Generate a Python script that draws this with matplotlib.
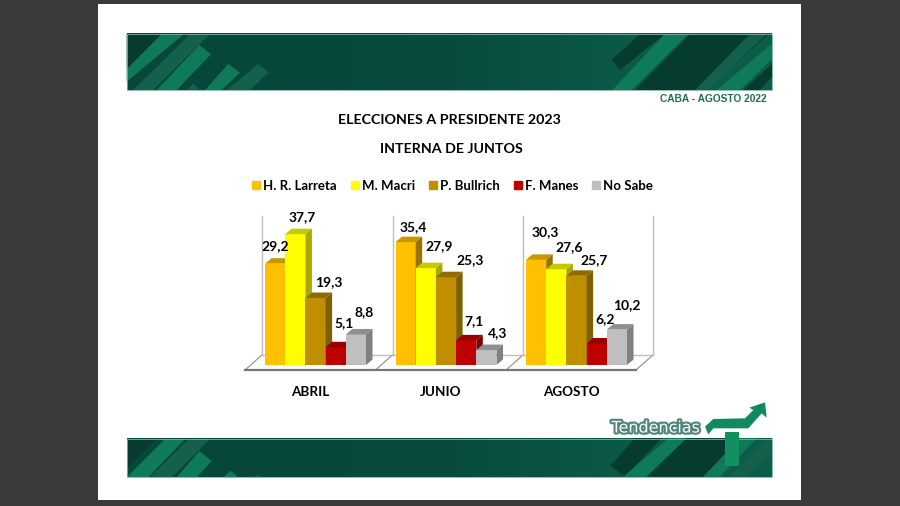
import matplotlib
matplotlib.use("Agg")
import matplotlib.pyplot as plt
import matplotlib.patheffects as pe
from matplotlib.lines import Line2D
from matplotlib.patches import Polygon, Rectangle
import numpy as np

plt.rcParams['font.family'] = ['Lato', 'DejaVu Sans']

# Datos
meses = ["ABRIL", "JUNIO", "AGOSTO"]
candidatos = ["H. R. Larreta", "M. Macri", "P. Bullrich", "F. Manes", "No Sabe"]
larreta = [29.2, 35.4, 30.3]
macri = [37.7, 27.9, 27.6]
bullrich = [19.3, 25.3, 25.7]
manes = [5.1, 7.1, 6.2]
no_sabe = [8.8, 4.3, 10.2]
series = [larreta, macri, bullrich, manes, no_sabe]

# colores: frente, tapa, lateral
frente = ["#ffc000", "#ffff00", "#bf8f00", "#c00000", "#bfbfbf"]
tapa = ["#c99700", "#c8c800", "#8f6b00", "#960000", "#8f8f8f"]
lateral = ["#997300", "#a8a800", "#7f6000", "#800000", "#808080"]

# desplazamiento de cada etiqueta respecto de la barra, en pixeles
offs = [
    [(0, 18), (7, 17), (13, 16), (8, 24), (8, 22)],
    [(8, 15), (13, 22), (24, 17), (8, 19), (11, 17)],
    [(9, 28), (13, 22), (18, 16), (8, 24), (10, 25)],
]

W, H = 900, 506
fig = plt.figure(figsize=(W / 100, 5.0601), dpi=100, facecolor="#3a3a3a")

# pagina, banners y logo en coordenadas de pixel
page = fig.add_axes([0, 0, 1, 1])
page.set_xlim(0, W)
page.set_ylim(H, 0)
page.axis("off")
page.add_patch(Rectangle((98, 4), 703, 496, fc="white", ec="none"))

OSCURO = "#063c30"
MEDIO = "#14604c"
CLARO = "#0f7a5a"


def banner(x0, y0, x1, y1):
    grad = np.array([[0.0, 0.25, 1.0]])
    cmap = matplotlib.colors.LinearSegmentedColormap.from_list("b", ["#07463a", "#0c5c4a"])
    page.imshow(grad, extent=(x0, x1, y1, y0), cmap=cmap, aspect="auto", interpolation="bilinear", zorder=1)
    page.add_patch(Rectangle((x0, y0), x1 - x0, y1 - y0, fc="none", ec="#7fb5a8", lw=0.6, zorder=3))


def formas(ox, oy, lista):
    # los puntos vienen en la escala 3x de los recortes
    for color, pts in lista:
        xy = [(ox + a / 3, oy + b / 3) for a, b in pts]
        page.add_patch(Polygon(xy, closed=True, fc=color, ec="none", zorder=2))


banner(127, 34, 772, 90)
banner(127, 439, 772, 477)

formas(110, 20, [
    (OSCURO, [(50, 42), (155, 42), (50, 148)]),
    (CLARO, [(50, 148), (155, 42), (222, 42), (50, 185)]),
    (MEDIO, [(240, 42), (300, 42), (130, 210), (70, 210)]),
    (CLARO, [(268, 75), (303, 103), (200, 210), (140, 210)]),
    (MEDIO, [(230, 210), (250, 190), (270, 210)]),
    (CLARO, [(355, 132), (390, 158), (335, 210), (285, 210)]),
    (MEDIO, [(445, 132), (475, 158), (420, 210), (350, 210)]),
])
formas(450, 20, [
    (OSCURO, [(485, 120), (570, 42), (645, 42), (510, 150)]),
    (OSCURO, [(555, 210), (720, 42), (955, 42), (770, 210)]),
    (CLARO, [(487, 210), (645, 42), (715, 42), (545, 210)]),
    (MEDIO, [(735, 210), (900, 42), (950, 42), (775, 210)]),
    (CLARO, [(800, 210), (967, 70), (967, 115), (870, 210)]),
    (OSCURO, [(880, 210), (967, 130), (967, 170), (930, 210)]),
])
formas(110, 425, [
    (OSCURO, [(52, 42), (140, 42), (52, 130)]),
    (CLARO, [(52, 155), (165, 42), (225, 42), (115, 157)]),
    (MEDIO, [(235, 42), (300, 42), (185, 157), (120, 157)]),
    (CLARO, [(268, 78), (305, 108), (260, 157), (200, 157)]),
    (CLARO, [(362, 137), (385, 157), (340, 157)]),
    (MEDIO, [(440, 150), (460, 157), (430, 157)]),
])
formas(590, 395, [
    (OSCURO, [(60, 212), (135, 130), (215, 130), (105, 245)]),
    (CLARO, [(100, 245), (235, 130), (290, 130), (170, 245)]),
    (OSCURO, [(170, 245), (290, 130), (450, 130), (340, 245)]),
    (CLARO, [(340, 245), (450, 130), (500, 130), (390, 245)]),
    (MEDIO, [(420, 245), (530, 130), (547, 130), (547, 170), (470, 245)]),
])

# flecha del logo
logo = [
    ("#0f8a60", [(345, 95), (370, 72), (465, 70), (490, 45), (478, 38), (525, 22),
                 (530, 68), (515, 55), (475, 100), (370, 100), (355, 118)]),
    ("#12905f", [(405, 110), (447, 110), (447, 212), (405, 212)]),
]
for color, pts in logo:
    xy = [(590 + a / 3, 395 + b / 3) for a, b in pts]
    page.add_patch(Polygon(xy, closed=True, fc=color, ec="none", zorder=4))
page.text(656, 428, "Tendencias", family=["DejaVu Sans"], fontsize=11.5, color="white", ha="center", va="center",
          zorder=5, path_effects=[pe.withStroke(linewidth=3, foreground="#4f8578")])

# textos
page.text(767, 99, "CABA - AGOSTO 2022", family=["Liberation Sans"], fontsize=7.3, fontweight="bold",
          color="#1a7048", ha="right", va="center", zorder=5)
page.text(449, 119.5, "ELECCIONES A PRESIDENTE 2023", fontsize=10.3, fontweight="bold", color="black",
          ha="center", va="center", zorder=5)
page.text(451, 148.5, "INTERNA DE JUNTOS", fontsize=10.3, fontweight="bold", color="black",
          ha="center", va="center", zorder=5)

# grafico: 1 unidad x = ancho de barra, 1 unidad y = un punto porcentual
PX_X = 20.2
PX_Y = 3.47
L, R, T, B = 240, 660, 200, 378
X0, Y0 = 265, 365
ax = fig.add_axes([L / W, 1 - B / H, (R - L) / W, (B - T) / H])
ax.set_xlim((L - X0) / PX_X, (R - X0) / PX_X)
ax.set_ylim((Y0 - B) / PX_Y, (Y0 - T) / PX_Y)
ax.patch.set_alpha(0)
for s in ax.spines.values():
    s.set_visible(False)

dx = 6.5 / PX_X
dy = 5.5 / PX_Y
paso = 130.5 / PX_X
n = len(meses)

# piso y paredes
y_fondo = 10 / PX_Y
y_piso = -5 / PX_Y
x_pared = [(-3 + 130.5 * i) / PX_X for i in range(n)] + [388 / PX_X]
corre = 17 / PX_X
ax.fill([x_pared[0], x_pared[-1], x_pared[-1] - corre, x_pared[0] - corre],
        [y_fondo, y_fondo, y_piso, y_piso], color="white", zorder=1)
for x in x_pared:
    ax.plot([x, x], [y_fondo, 149 / PX_Y], color="#bdbdbd", lw=1, zorder=1)
    ax.plot([x, x - corre], [y_fondo, y_piso], color="#8c8c8c", lw=0.8, zorder=1)
ax.plot([x_pared[0], x_pared[-1]], [y_fondo, y_fondo], color="#bdbdbd", lw=1, zorder=1)
ax.plot([x_pared[0] - corre, x_pared[-1] - corre], [y_piso, y_piso], color="#777777", lw=1.6, zorder=1)

# barras
for j, valores in enumerate(series):
    xs = [i * paso + j for i in range(n)]
    ax.bar(xs, valores, width=1, align="edge", color=frente[j], zorder=2 + j)
    for i, (x, v) in enumerate(zip(xs, valores)):
        ax.fill([x, x + 1, x + 1 + dx, x + dx], [v, v, v + dy, v + dy], color=tapa[j], lw=0, zorder=2 + j)
        ax.fill([x + 1, x + 1 + dx, x + 1 + dx, x + 1], [0, dy, v + dy, v], color=lateral[j], lw=0, zorder=2 + j)
        ax.annotate(f"{v:.1f}".replace(".", ","), (x + 0.5, v), xytext=offs[i][j], textcoords="offset pixels",
                    ha="center", va="center", fontsize=10, fontweight="bold", color="black", zorder=10,
                    annotation_clip=False)

ax.set_yticks([])
ax.set_xticks([i * paso + 2.25 for i in range(n)], meses, fontsize=9.7, fontweight="bold")
ax.tick_params(axis="x", length=0, pad=6)

# leyenda
handles = [Line2D([], [], marker="s", ls="none", color=c, markersize=6) for c in frente]
leg = fig.legend(handles, candidatos, loc="center", bbox_to_anchor=(452.5 / W, 1 - 186 / H), ncol=5, frameon=False,
                 prop={"size": 9.5, "weight": "bold"}, handletextpad=0.25, columnspacing=1.05, handlelength=0.6)

fig.savefig("out.png", dpi=100, facecolor=fig.get_facecolor())
